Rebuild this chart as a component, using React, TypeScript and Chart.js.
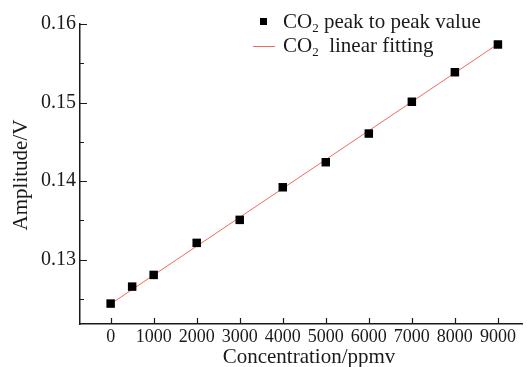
import React, { useEffect, useRef } from 'react';
import { Chart, registerables } from 'chart.js';

Chart.register(...registerables);

const concentrations = [0, 500, 1000, 2000, 3000, 4000, 5000, 6000, 7000, 8000, 9000];
const amplitudes = [0.1244, 0.12656, 0.12805, 0.13213, 0.13506, 0.13921, 0.1424, 0.14605, 0.1501, 0.15386, 0.15739];
const fitX = [0, 9000];
const fitY = [0.12435, 0.15745];
const xTickValues = [0, 1000, 2000, 3000, 4000, 5000, 6000, 7000, 8000, 9000];
const yMajorTicks = [0.13, 0.14, 0.15, 0.16];
const yMinorTicks = [0.125, 0.135, 0.145, 0.155];
const legendTexts = [' peak to peak value', '  linear fitting'];
const xTitle = 'Concentration/ppmv';
const yTitle = 'Amplitude/V';

const FONT = "'Liberation Serif', 'Times New Roman', serif";
const INK = '#1a1a1a';
const FIT_COLOR = '#f06a5e';

const decorations = {
  id: 'decorations',
  afterDraw(chart: any) {
    const { ctx, chartArea, scales } = chart;
    const xs = scales.x;
    const ys = scales.y;
    ctx.save();
    ctx.strokeStyle = INK;
    ctx.lineWidth = 1.2;
    ctx.beginPath();
    xTickValues.forEach((v) => {
      const px = Math.round(xs.getPixelForValue(v)) + 0.5;
      ctx.moveTo(px, chartArea.bottom);
      ctx.lineTo(px, chartArea.bottom - 6);
    });
    yMajorTicks.forEach((v) => {
      const py = Math.round(ys.getPixelForValue(v)) + 0.5;
      ctx.moveTo(chartArea.left, py);
      ctx.lineTo(chartArea.left + 7, py);
    });
    yMinorTicks.forEach((v) => {
      const py = Math.round(ys.getPixelForValue(v)) + 0.5;
      ctx.moveTo(chartArea.left, py);
      ctx.lineTo(chartArea.left + 4, py);
    });
    ctx.stroke();

    // axis titles
    ctx.fillStyle = INK;
    ctx.font = `21px ${FONT}`;
    ctx.textAlign = 'center';
    ctx.textBaseline = 'alphabetic';
    ctx.fillText(xTitle, 309, 363);
    ctx.save();
    ctx.translate(27, 175);
    ctx.rotate(-Math.PI / 2);
    ctx.fillText(yTitle, 0, 0);
    ctx.restore();

    // legend
    ctx.textAlign = 'left';
    const lx = 283;
    const rows = [28, 52];
    ctx.fillStyle = '#000';
    ctx.fillRect(260, 18, 7, 7);
    ctx.strokeStyle = FIT_COLOR;
    ctx.lineWidth = 1;
    ctx.beginPath();
    ctx.moveTo(253, 46.5);
    ctx.lineTo(275, 46.5);
    ctx.stroke();
    ctx.fillStyle = INK;
    rows.forEach((y, i) => {
      ctx.font = `21px ${FONT}`;
      ctx.fillText('CO', lx, y);
      let w = ctx.measureText('CO').width;
      ctx.font = `13px ${FONT}`;
      ctx.fillText('2', lx + w, y + 4);
      w += ctx.measureText('2').width;
      ctx.font = `21px ${FONT}`;
      ctx.fillText(legendTexts[i], lx + w, y);
    });
    ctx.restore();
  },
};

export default function App() {
  const ref = useRef<HTMLCanvasElement | null>(null);
  useEffect(() => {
    if (!ref.current) return;
    const chart = new Chart(ref.current, {
      type: 'scatter',
      data: {
        datasets: [
          {
            label: 'CO2 linear fitting',
            type: 'line',
            data: fitX.map((x, i) => ({ x, y: fitY[i] })),
            borderColor: FIT_COLOR,
            borderWidth: 1,
            pointRadius: 0,
            fill: false,
            order: 2,
          },
          {
            label: 'CO2 peak to peak value',
            data: concentrations.map((x, i) => ({ x, y: amplitudes[i] })),
            pointStyle: 'rect',
            pointRadius: 6,
            backgroundColor: '#000',
            borderColor: '#000',
            borderWidth: 0,
            order: 1,
          },
        ],
      },
      options: {
        responsive: false,
        animation: false,
        layout: { padding: { top: 24, right: 1, left: 0, bottom: 0 } },
        plugins: { legend: { display: false }, tooltip: { enabled: false } },
        scales: {
          x: {
            type: 'linear',
            min: -712,
            max: 9560,
            afterBuildTicks: (s: any) => {
              s.ticks = xTickValues.map((v) => ({ value: v }));
            },
            afterFit: (s: any) => {
              s.height = 43;
            },
            grid: { drawOnChartArea: false, drawTicks: false },
            border: { display: true, color: INK, width: 1.5 },
            ticks: {
              autoSkip: false,
              maxRotation: 0,
              padding: 2,
              color: INK,
              font: { family: FONT, size: 18 },
              callback: (v: any) => String(v),
            },
          },
          y: {
            type: 'linear',
            min: 0.1218,
            max: 0.16,
            afterBuildTicks: (s: any) => {
              s.ticks = yMajorTicks.map((v) => ({ value: v }));
            },
            afterFit: (s: any) => {
              s.width = 80;
            },
            grid: { drawOnChartArea: false, drawTicks: false },
            border: { display: true, color: INK, width: 1.5 },
            ticks: {
              padding: 4,
              color: INK,
              font: { family: FONT, size: 20 },
              callback: (v: any) => Number(v).toFixed(2),
            },
          },
        },
      },
      plugins: [decorations],
    });
    return () => chart.destroy();
  }, []);
  return (
    <div style={{ position: 'absolute', left: 0, top: 0, width: 528, height: 367, background: '#fff' }}>
      <canvas ref={ref} width={528} height={367} />
    </div>
  );
}
